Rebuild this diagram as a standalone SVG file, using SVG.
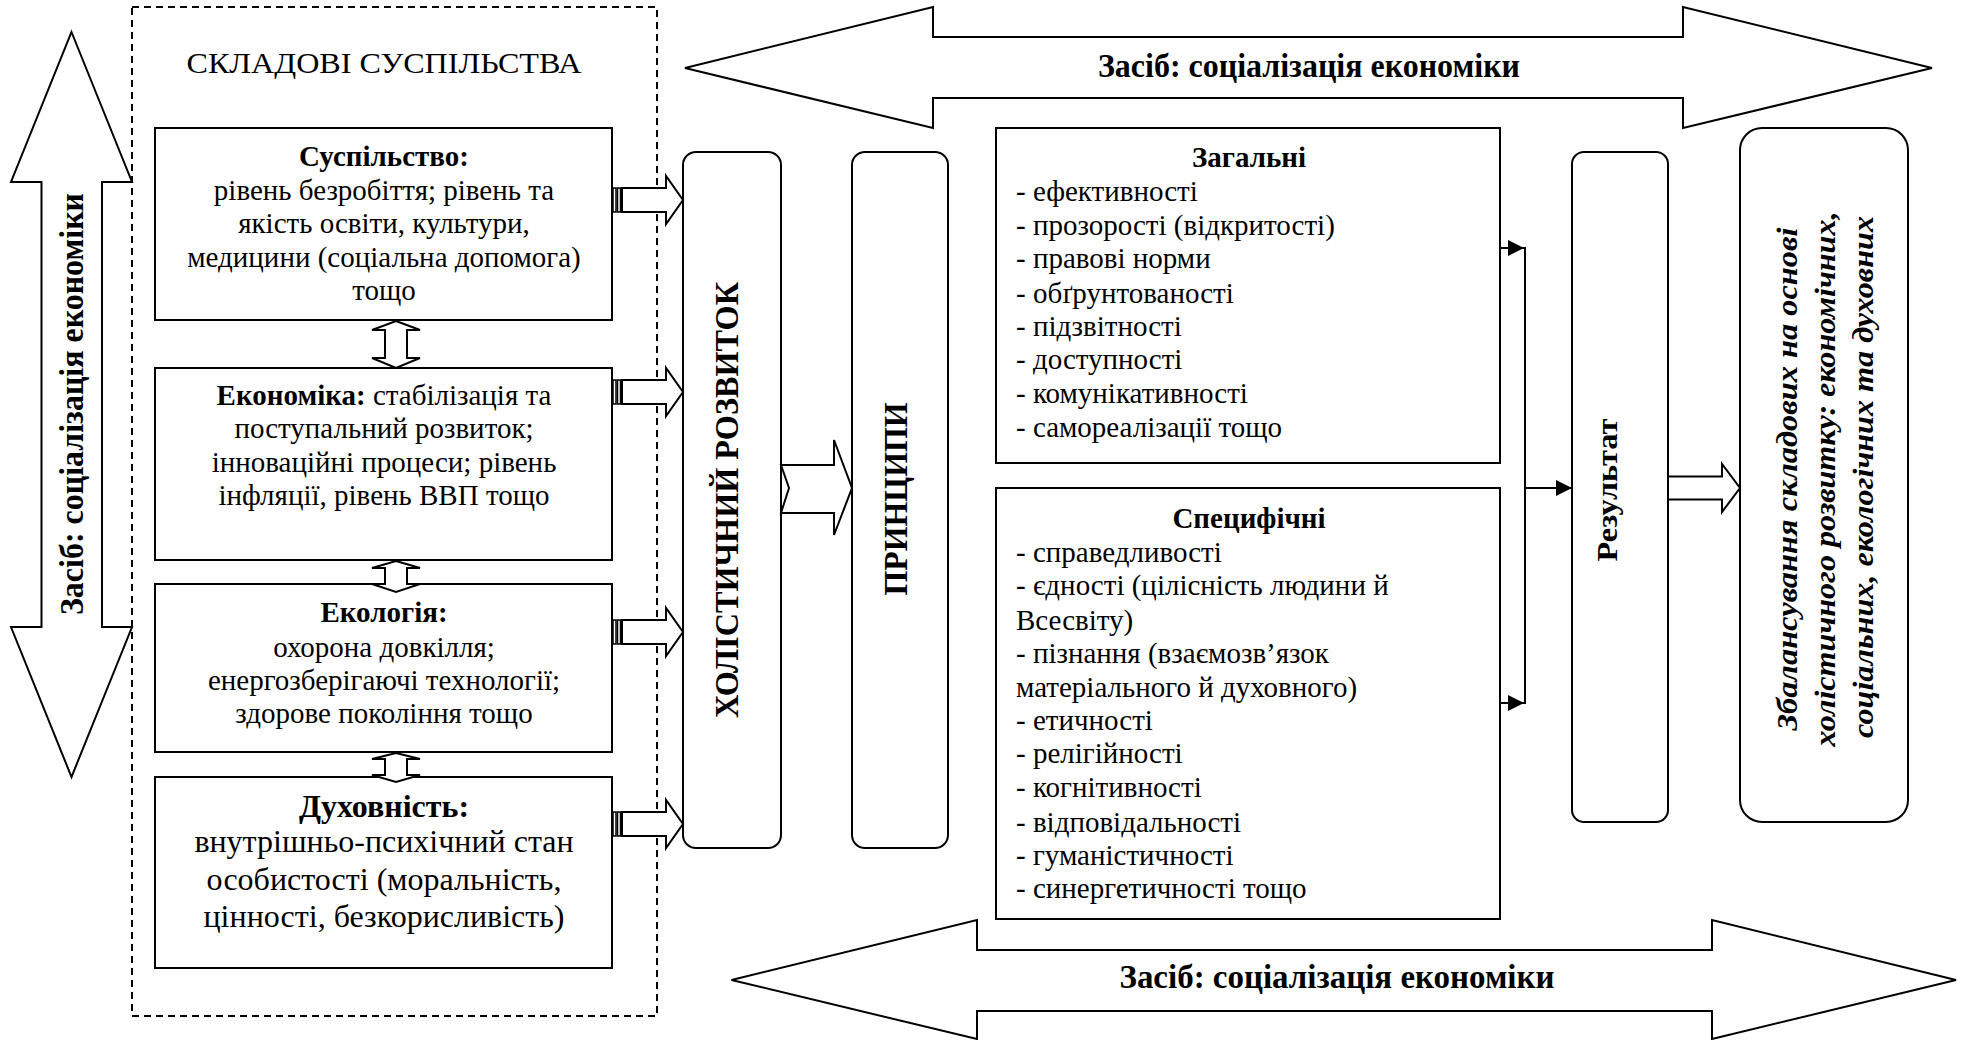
<svg xmlns="http://www.w3.org/2000/svg" width="1962" height="1040" viewBox="0 0 1962 1040">
<style>
.bx{fill:#fff;stroke:#000;stroke-width:2}
.ar{fill:#fff;stroke:#000;stroke-width:2;stroke-linejoin:miter}
.ln{fill:none;stroke:#000;stroke-width:2}
.t{font-family:"Liberation Serif","Times New Roman",serif;font-size:29px;fill:#000}
.c{text-anchor:middle}
.b{font-weight:bold}
.big{font-size:33px;font-weight:bold}
.it{font-size:30px;font-weight:bold;font-style:italic}
</style>
<defs>
<marker id="tri" viewBox="0 0 10 10" refX="10" refY="5" markerWidth="16" markerHeight="16" markerUnits="userSpaceOnUse" orient="auto">
<path d="M0,0 L10,5 L0,10 Z" fill="#000"/>
</marker>
</defs>
<rect width="1962" height="1040" fill="#fff"/>

<g id="frame">
<rect x="132" y="7" width="525" height="1009" fill="none" stroke="#000" stroke-width="2" stroke-dasharray="7 5"/>
<text class="t c" x="384" y="73" style="font-size:30px" textLength="395" lengthAdjust="spacingAndGlyphs">СКЛАДОВІ СУСПІЛЬСТВА</text>
</g>

<g id="side-arrow">
<polygon class="ar" points="71.5,32 132,182 102,182 102,627 132,627 71.5,777 11,627 41.5,627 41.5,182 11,182"/>
<text class="t c big" transform="translate(83,404) rotate(-90)" textLength="422" lengthAdjust="spacingAndGlyphs">Засіб: соціалізація економіки</text>
</g>

<g id="top-arrow">
<polygon class="ar" points="685,68 933,7 933,37 1683,37 1683,7 1932,68 1683,128 1683,98 933,98 933,128"/>
<text class="t c big" x="1309" y="77" textLength="422" lengthAdjust="spacingAndGlyphs">Засіб: соціалізація економіки</text>
</g>

<g id="bottom-arrow">
<polygon class="ar" points="731.5,980 977,920 977,950 1712,950 1712,920 1956,980 1712,1039 1712,1011 977,1011 977,1039"/>
<text class="t c big" x="1337" y="988" textLength="435" lengthAdjust="spacingAndGlyphs">Засіб: соціалізація економіки</text>
</g>

<g id="box-society">
<rect class="bx" x="155" y="128" width="457" height="192"/>
<text class="t c" x="384" y="166"><tspan class="b">Суспільство:</tspan></text>
<text class="t c" x="384" y="200">рівень безробіття; рівень та</text>
<text class="t c" x="384" y="233">якість освіти, культури,</text>
<text class="t c" x="384" y="267">медицини (соціальна допомога)</text>
<text class="t c" x="384" y="300">тощо</text>
</g>

<g id="box-economy">
<rect class="bx" x="155" y="368" width="457" height="192"/>
<text class="t c" x="384" y="405"><tspan class="b">Економіка:</tspan> стабілізація та</text>
<text class="t c" x="384" y="438">поступальний розвиток;</text>
<text class="t c" x="384" y="472">інноваційні процеси; рівень</text>
<text class="t c" x="384" y="505">інфляції, рівень ВВП тощо</text>
</g>

<g id="box-ecology">
<rect class="bx" x="155" y="584" width="457" height="168"/>
<text class="t c b" x="384" y="622">Екологія:</text>
<text class="t c" x="384" y="657">охорона довкілля;</text>
<text class="t c" x="384" y="690">енергозберігаючі технології;</text>
<text class="t c" x="384" y="723">здорове покоління тощо</text>
</g>

<g id="box-spirit">
<rect class="bx" x="155" y="777" width="457" height="191"/>
<text class="t c b" x="384" y="817" style="font-size:32px">Духовність:</text>
<text class="t c" x="384" y="852" style="font-size:32px">внутрішньо-психічний стан</text>
<text class="t c" x="384" y="890" style="font-size:32px">особистості (моральність,</text>
<text class="t c" x="384" y="927" style="font-size:32px">цінності, безкорисливість)</text>
</g>

<g id="box-holistic">
<rect class="bx" x="683" y="152" width="98" height="696" rx="13"/>
<text class="t c big" transform="translate(738,500) rotate(-90)" textLength="436" lengthAdjust="spacingAndGlyphs">ХОЛІСТИЧНИЙ РОЗВИТОК</text>
</g>

<g id="box-principles">
<rect class="bx" x="852" y="152" width="96" height="696" rx="13"/>
<text class="t c big" transform="translate(907,499) rotate(-90)" textLength="193" lengthAdjust="spacingAndGlyphs">ПРИНЦИПИ</text>
</g>

<g id="box-general">
<rect class="bx" x="996" y="128" width="504" height="335"/>
<text class="t c b" x="1249" y="167">Загальні</text>
<text class="t" x="1016" y="201">- ефективності</text>
<text class="t" x="1016" y="235">- прозорості (відкритості)</text>
<text class="t" x="1016" y="268">- правові норми</text>
<text class="t" x="1016" y="303">- обґрунтованості</text>
<text class="t" x="1016" y="336">- підзвітності</text>
<text class="t" x="1016" y="369">- доступності</text>
<text class="t" x="1016" y="403">- комунікативності</text>
<text class="t" x="1016" y="437">- самореалізації тощо</text>
</g>

<g id="box-specific">
<rect class="bx" x="996" y="488" width="504" height="431"/>
<text class="t c b" x="1249" y="528">Специфічні</text>
<text class="t" x="1016" y="562">- справедливості</text>
<text class="t" x="1016" y="595">- єдності (цілісність людини й</text>
<text class="t" x="1016" y="630">Всесвіту)</text>
<text class="t" x="1016" y="663">- пізнання (взаємозв’язок</text>
<text class="t" x="1016" y="697">матеріального й духовного)</text>
<text class="t" x="1016" y="730">- етичності</text>
<text class="t" x="1016" y="763">- релігійності</text>
<text class="t" x="1016" y="797">- когнітивності</text>
<text class="t" x="1016" y="832">- відповідальності</text>
<text class="t" x="1016" y="865">- гуманістичності</text>
<text class="t" x="1016" y="898">- синергетичності тощо</text>
</g>

<g id="box-result">
<rect class="bx" x="1572" y="152" width="96" height="670" rx="12"/>
<text class="t c b" style="font-size:30px" transform="translate(1617,490) rotate(-90)" textLength="143" lengthAdjust="spacingAndGlyphs">Результат</text>
</g>

<g id="box-outcome">
<rect class="bx" x="1740" y="128" width="168" height="694" rx="22"/>
<text class="t c it" transform="translate(1797,479) rotate(-90)" textLength="503" lengthAdjust="spacingAndGlyphs">Збалансування складових на основі</text>
<text class="t c it" transform="translate(1835,479) rotate(-90)" textLength="535" lengthAdjust="spacingAndGlyphs">холістичного розвитку: економічних,</text>
<text class="t c it" transform="translate(1873,477) rotate(-90)" textLength="522" lengthAdjust="spacingAndGlyphs">соціальних, екологічних та духовних</text>
</g>

<g id="connectors">
<!-- vertical double arrows between left boxes -->
<polygon class="ar" points="396,321 420,330 407,330 407,358 420,358 396,368 372,358 385,358 385,330 372,330"/>
<polygon class="ar" points="396,561 420,568 407,568 407,584 420,584 396,592 372,584 385,584 385,568 372,568"/>
<polygon class="ar" points="396,753 420,759 407,759 407,775 420,775 396,782 372,775 385,775 385,759 372,759"/>
<!-- striped arrows to holistic box -->
<g id="sa1">
<rect class="ar" x="613" y="188" width="3" height="24" style="stroke-width:1.5"/>
<rect class="ar" x="617.5" y="188" width="3" height="24" style="stroke-width:1.5"/>
<polygon class="ar" points="622,188 666,188 666,176 683,200 666,224 666,212 622,212"/>
</g>
<g id="sa2">
<rect class="ar" x="613" y="380" width="3" height="24" style="stroke-width:1.5"/>
<rect class="ar" x="617.5" y="380" width="3" height="24" style="stroke-width:1.5"/>
<polygon class="ar" points="622,380 666,380 666,368 683,392 666,416 666,404 622,404"/>
</g>
<g id="sa3">
<rect class="ar" x="613" y="620" width="3" height="24" style="stroke-width:1.5"/>
<rect class="ar" x="617.5" y="620" width="3" height="24" style="stroke-width:1.5"/>
<polygon class="ar" points="622,620 666,620 666,608 683,632 666,656 666,644 622,644"/>
</g>
<g id="sa4">
<rect class="ar" x="613" y="812" width="3" height="24" style="stroke-width:1.5"/>
<rect class="ar" x="617.5" y="812" width="3" height="24" style="stroke-width:1.5"/>
<polygon class="ar" points="622,812 666,812 666,800 683,824 666,848 666,836 622,836"/>
</g>
<!-- notched arrow holistic -> principles -->
<polygon class="ar" points="781,465 834,465 834,440 852,488 834,535 834,513 781,513 789,488"/>
<!-- principle boxes to result -->
<line class="ln" x1="1500" y1="248" x2="1524" y2="248" marker-end="url(#tri)"/>
<line class="ln" x1="1500" y1="703" x2="1524" y2="703" marker-end="url(#tri)"/>
<line class="ln" x1="1525" y1="247" x2="1525" y2="704"/>
<line class="ln" x1="1525" y1="488" x2="1572" y2="488" marker-end="url(#tri)"/>
<!-- result -> outcome -->
<polygon class="ar" points="1668,476.5 1722,476.5 1722,464 1740,488 1722,512 1722,499.5 1668,499.5"/>
</g>
</svg>
